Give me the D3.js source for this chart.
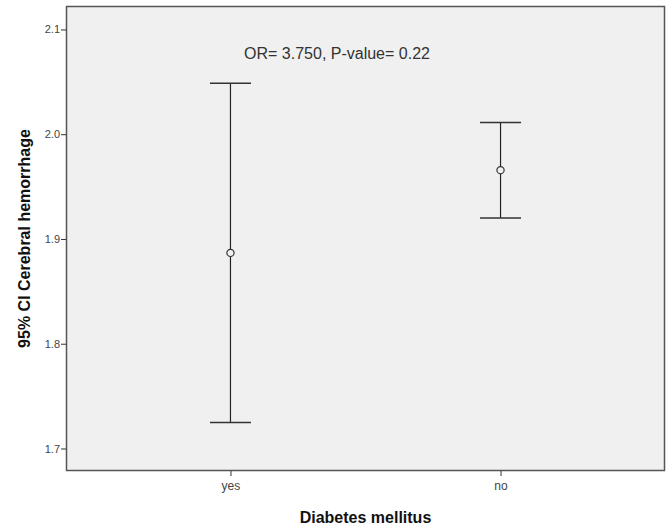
<!DOCTYPE html>
<html>
<head>
<meta charset="utf-8">
<script src="https://cdn.jsdelivr.net/npm/d3@7"></script>
<style>
  body { margin: 0; background: #fff; }
  svg { display: block; font-family: Arial, "Liberation Sans", sans-serif; }
</style>
</head>
<body>
<svg id="chart" width="669" height="529"></svg>
<script>
// values
var categories = ["yes", "no"];
var means = [1.8867, 1.9657];
var lower = [1.7247, 1.9201];
var upper = [2.0487, 2.0113];
var yTicks = [1.7, 1.8, 1.9, 2.0, 2.1];
var note = "OR= 3.750, P-value= 0.22";

var width = 669, height = 529;
var margin = {top: 6, right: 4, bottom: 58, left: 66};

var svg = d3.select("#chart");

var x = d3.scalePoint()
    .domain(categories)
    .range([margin.left, width - margin.right])
    .padding(0.609);

var y = d3.scaleLinear()
    .domain([1.6785, 2.1224])
    .range([height - margin.bottom, margin.top]);

var data = categories.map(function(c, i) {
    return {cat: c, mean: means[i], lo: lower[i], hi: upper[i]};
});

// plot background
svg.append("rect")
    .attr("x", margin.left + 0.5)
    .attr("y", margin.top + 0.5)
    .attr("width", width - margin.left - margin.right - 1)
    .attr("height", height - margin.top - margin.bottom - 1)
    .attr("fill", "#f0f0f0")
    .attr("stroke", "#555")
    .attr("stroke-width", 1.5);

// axes
var yAxis = svg.append("g")
    .attr("transform", "translate(" + margin.left + ",0)")
    .call(d3.axisLeft(y).tickValues(yTicks).tickFormat(d3.format(".1f")).tickSize(5).tickSizeOuter(0));

var xAxis = svg.append("g")
    .attr("transform", "translate(0," + (height - margin.bottom) + ")")
    .call(d3.axisBottom(x).tickSize(5).tickSizeOuter(0));

[yAxis, xAxis].forEach(function(a) {
    a.select(".domain").remove();
    a.selectAll(".tick line").attr("stroke", "#333");
    a.selectAll(".tick text")
        .attr("fill", "#444")
        .style("font-family", "Arial, 'Liberation Sans', sans-serif");
});
yAxis.selectAll(".tick text").attr("x", -6).style("font-size", "11px");
xAxis.selectAll(".tick text").attr("y", 10).style("font-size", "12px");

// axis titles
svg.append("text")
    .attr("transform", "translate(26," + ((margin.top + height - margin.bottom) / 2) + ") rotate(-90)")
    .attr("text-anchor", "middle")
    .attr("dominant-baseline", "middle")
    .attr("font-weight", "bold")
    .attr("font-size", "16px")
    .attr("fill", "#111")
    .text("95% CI Cerebral hemorrhage");

svg.append("text")
    .attr("x", (margin.left + width - margin.right) / 2)
    .attr("y", 523)
    .attr("text-anchor", "middle")
    .attr("font-weight", "bold")
    .attr("font-size", "16px")
    .attr("fill", "#111")
    .text("Diabetes mellitus");

// error bars
var capHalf = 20.5;
var bars = svg.selectAll("g.bar")
    .data(data)
    .enter().append("g")
    .attr("class", "bar");

bars.append("line")
    .attr("x1", function(d) { return x(d.cat); })
    .attr("x2", function(d) { return x(d.cat); })
    .attr("y1", function(d) { return y(d.hi); })
    .attr("y2", function(d) { return y(d.lo); })
    .attr("stroke", "#222")
    .attr("stroke-width", 1.2);

bars.selectAll("line.cap")
    .data(function(d) { return [{cat: d.cat, v: d.hi}, {cat: d.cat, v: d.lo}]; })
    .enter().append("line")
    .attr("class", "cap")
    .attr("x1", function(d) { return x(d.cat) - capHalf; })
    .attr("x2", function(d) { return x(d.cat) + capHalf; })
    .attr("y1", function(d) { return y(d.v); })
    .attr("y2", function(d) { return y(d.v); })
    .attr("stroke", "#333")
    .attr("stroke-width", 1.5);

bars.append("circle")
    .attr("cx", function(d) { return x(d.cat); })
    .attr("cy", function(d) { return y(d.mean); })
    .attr("r", 3.6)
    .attr("fill", "#f0f0f0")
    .attr("stroke", "#333")
    .attr("stroke-width", 1.2);

// annotation
svg.append("text")
    .attr("x", 337)
    .attr("y", 59)
    .attr("text-anchor", "middle")
    .attr("font-size", "16px")
    .attr("fill", "#333")
    .text(note);
</script>
</body>
</html>
